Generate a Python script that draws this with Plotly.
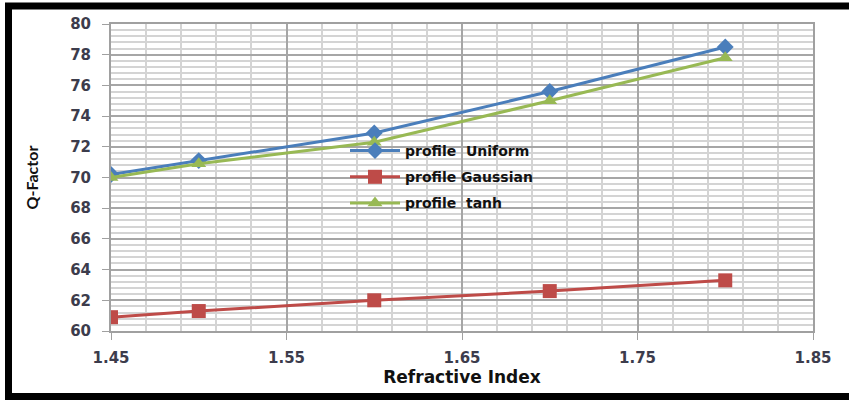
import plotly.graph_objects as go

# data
refractive_index = [1.45, 1.5, 1.6, 1.7, 1.8]
q_uniform = [70.2, 71.1, 72.9, 75.6, 78.5]
q_gaussian = [60.9, 61.3, 62.0, 62.6, 63.3]
q_tanh = [70.0, 70.9, 72.3, 75.0, 77.8]

series = [
    ("profile\u00a0 Uniform", q_uniform, "#4a7ebb", "diamond", 13),
    ("profile Gaussian", q_gaussian, "#be4b48", "square", 14),
    ("profile\u00a0 tanh", q_tanh, "#98b954", "triangle-up", 13),
]

fig = go.Figure()
for i, (name, ys, col, sym, sz) in enumerate(series):
    fig.add_trace(go.Scatter(
        x=refractive_index, y=ys, name=name, mode="lines+markers",
        legendgroup=f"g{i}",
        line=dict(color=col, width=3),
        marker=dict(symbol=sym, size=sz, color=col),
    ))

# plot area in pixels: x 111..813, y 24..331
L, R, T, B = 111, 813, 24, 331
W, H = R - L, B - T
px = lambda x: (x - L) / W
py = lambda y: (B - y) / H

frame = dict(color="black", width=7)
fig.add_shape(type="line", xref="paper", yref="paper", x0=px(8.5), x1=px(8.5), y0=py(3), y1=py(400), line=frame)
fig.add_shape(type="line", xref="paper", yref="paper", x0=px(5), x1=px(849), y0=py(6), y1=py(6), line=frame)
fig.add_shape(type="line", xref="paper", yref="paper", x0=px(5), x1=px(849), y0=py(396.5), y1=py(396.5), line=frame)

tickfont = dict(family="DejaVu Sans", size=15, color="#3c3c4c", weight="bold")

fig.update_xaxes(
    range=[1.45, 1.85], tick0=1.45, dtick=0.1, tickformat=".2f",
    showgrid=True, gridcolor="#a6a6a6", gridwidth=1.5,
    minor=dict(dtick=0.02, tick0=1.45, showgrid=True, gridcolor="#d4d4d4", gridwidth=1.5),
    showline=True, linecolor="#a0a0a0", linewidth=2, mirror=True,
    ticks="outside", ticklen=7, tickcolor="#a0a0a0", ticklabelstandoff=5,
    tickfont=tickfont, zeroline=False,
    title=dict(text="Refractive Index", font=dict(family="DejaVu Sans", size=17, color="#111111", weight="bold"), standoff=5),
)
fig.update_yaxes(
    range=[60, 80], dtick=2,
    showgrid=True, gridcolor="#a6a6a6", gridwidth=1.5,
    minor=dict(dtick=0.4, tick0=60, showgrid=True, gridcolor="#d4d4d4", gridwidth=1.5),
    showline=True, linecolor="#a0a0a0", linewidth=2, mirror=True,
    ticks="outside", ticklen=7, tickcolor="#a0a0a0", ticklabelstandoff=8,
    tickfont=tickfont, zeroline=False,
    title=dict(text="Q-Factor", font=dict(family="Lato", size=16, color="#111111", weight="bold"), standoff=28),
)

fig.update_layout(
    width=849, height=400,
    margin=dict(l=L, r=849 - R, t=T, b=400 - B, autoexpand=False),
    paper_bgcolor="white", plot_bgcolor="white",
    legend=dict(
        x=px(345), y=py(135), xanchor="left", yanchor="top",
        bgcolor="rgba(0,0,0,0)", tracegroupgap=5,
        font=dict(family="DejaVu Sans", size=14, color="#111111", weight="bold"),
        itemwidth=50,
    ),
)

fig.write_html("out.html", config={"displayModeBar": False},
               post_script="document.body.style.margin='0';")
